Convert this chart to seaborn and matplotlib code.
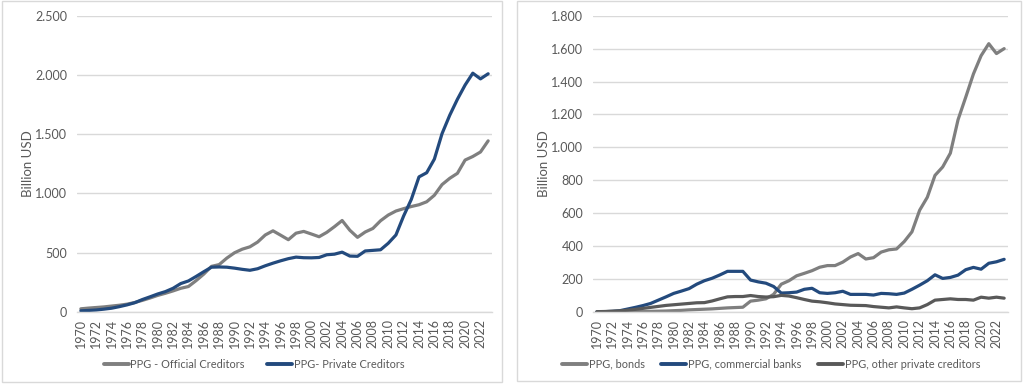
import matplotlib
matplotlib.use("Agg")
import matplotlib.pyplot as plt
import matplotlib.ticker as mticker
from matplotlib.patches import Rectangle
import seaborn as sns
import pandas as pd

years = list(range(1970, 2024))

official = [27, 33, 38, 43, 50, 57, 66, 80, 98, 118, 140, 158, 178, 200, 215, 265, 320, 385, 400, 455,
            500, 530, 550, 590, 650, 685, 648, 610, 665, 680, 658, 635, 672, 720, 772, 690, 630, 675, 705, 770,
            818, 852, 872, 890, 905, 930, 985, 1075, 1128, 1170, 1282, 1312, 1350, 1444]
private = [10, 13, 17, 24, 32, 45, 60, 78, 105, 128, 152, 172, 200, 240, 262, 300, 340, 378, 380, 378,
           370, 360, 352, 365, 390, 412, 432, 450, 463, 458, 457, 460, 483, 488, 505, 472, 470, 515, 520, 525,
           580, 650, 810, 950, 1140, 1175, 1290, 1505, 1660, 1795, 1915, 2015, 1967, 2010]

bonds = [0, 0, 1, 1, 2, 2, 3, 4, 5, 6, 8, 10, 13, 15, 17, 19, 22, 25, 27, 29,
         66, 72, 80, 107, 169, 190, 220, 235, 251, 272, 282, 282, 303, 334, 355, 322, 330, 364, 378, 383,
         428, 487, 618, 697, 830, 881, 965, 1168, 1305, 1446, 1557, 1630, 1570, 1600]
banks = [0, 2, 4, 8, 18, 28, 39, 52, 72, 92, 113, 127, 142, 169, 190, 205, 225, 247, 247, 247,
         194, 183, 175, 155, 115, 117, 121, 138, 144, 117, 113, 117, 126, 107, 107, 107, 103, 113, 111, 107,
         115, 138, 163, 190, 226, 204, 210, 224, 257, 271, 260, 296, 305, 320]
other = [2, 3, 5, 7, 11, 16, 22, 28, 34, 40, 44, 48, 52, 56, 57, 67, 80, 92, 94, 94,
         100, 94, 91, 93, 101, 97, 87, 76, 66, 62, 56, 49, 45, 41, 40, 39, 33, 29, 25, 31,
         25, 20, 25, 45, 72, 76, 80, 76, 76, 72, 90, 84, 90, 84]

left_names = ["PPG - Official Creditors", "PPG- Private Creditors"]
right_names = ["PPG, bonds", "PPG, commercial banks", "PPG, other private creditors"]

GRAY = "#7f7f7f"
BLUE = "#234a7d"
DARK = "#595959"
TXT = "#595959"
GRID = "#d9d9d9"

sns.set_theme(style="white")
plt.rcParams["font.family"] = ["Lato", "DejaVu Sans"]

df_left = pd.DataFrame({"year": years * 2,
                        "value": official + private,
                        "series": [left_names[0]] * len(years) + [left_names[1]] * len(years)})
df_right = pd.DataFrame({"year": years * 3,
                         "value": bonds + banks + other,
                         "series": [right_names[0]] * len(years) + [right_names[1]] * len(years)
                         + [right_names[2]] * len(years)})

fig = plt.figure(figsize=(10.24, 3.86), dpi=100)
ax1 = fig.add_axes([77 / 1024, 74 / 386, 415 / 1024, 296.3 / 386])
ax2 = fig.add_axes([593 / 1024, 74 / 386, 415 / 1024, 296.3 / 386])

sns.lineplot(data=df_left, x="year", y="value", hue="series", hue_order=left_names,
             palette=[GRAY, BLUE], linewidth=2.3, ax=ax1)
sns.lineplot(data=df_right, x="year", y="value", hue="series", hue_order=right_names,
             palette=[GRAY, BLUE, DARK], linewidth=2.3, ax=ax2)

fmt = mticker.FuncFormatter(lambda v, p: f"{v:,.0f}".replace(",", "."))
for ax, ymax, step, cx, cs in [(ax1, 2500, 500, 254, 2.0), (ax2, 1800, 200, 771, 1.5)]:
    ax.set_xlim(1969.5, 2023.5)
    ax.set_ylim(0, ymax)
    ax.set_yticks(range(0, ymax + 1, step))
    ax.yaxis.set_major_formatter(fmt)
    ax.set_xticks(range(1970, 2023, 2))
    ax.set_xticklabels([str(y) for y in range(1970, 2023, 2)], rotation=90)
    ax.tick_params(axis="both", labelsize=9, colors=TXT, length=0)
    ax.tick_params(axis="x", pad=5)
    ax.tick_params(axis="y", pad=7)
    ax.grid(axis="y", color=GRID, linewidth=1)
    ax.set_axisbelow(True)
    for s in ["top", "right", "left"]:
        ax.spines[s].set_visible(False)
    ax.spines["bottom"].set_color(GRID)
    ax.spines["bottom"].set_linewidth(1)
    ax.set_xlabel("")
    ax.set_ylabel("Billion USD", fontsize=9.5, color=TXT, labelpad=1)
    leg = ax.legend(loc="center", bbox_to_anchor=(cx / 1024, 1 - 364 / 386),
                    bbox_transform=fig.transFigure, ncol=3, frameon=False,
                    prop={"family": "Lato", "size": 7.9}, handlelength=2.3, handletextpad=0.15,
                    columnspacing=cs, borderaxespad=0)
    for t in leg.get_texts():
        t.set_color(TXT)
    for l in leg.get_lines():
        l.set_linewidth(2.8)

fig.patches.append(Rectangle((2 / 1024, 4 / 386), 500 / 1024, 381 / 386, transform=fig.transFigure,
                             fill=False, edgecolor=GRID, linewidth=1))
fig.patches.append(Rectangle((517 / 1024, 5 / 386), 504 / 1024, 380 / 386, transform=fig.transFigure,
                             fill=False, edgecolor=GRID, linewidth=1))

fig.savefig("out.png", dpi=100)
